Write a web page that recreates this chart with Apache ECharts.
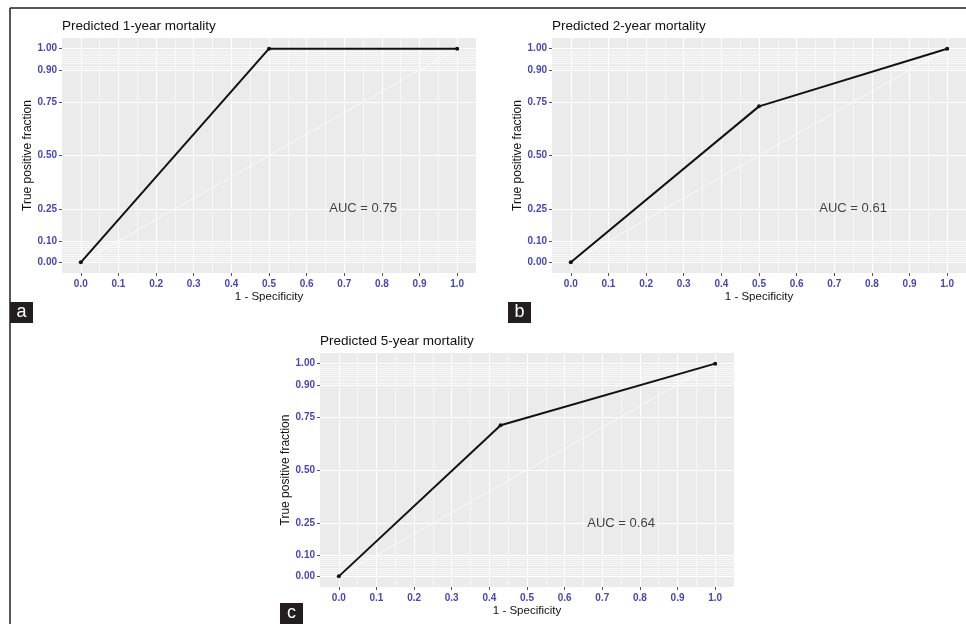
<!DOCTYPE html>
<html>
<head>
<meta charset="utf-8">
<script src="https://cdn.jsdelivr.net/npm/echarts@6/dist/echarts.min.js"></script>
<style>
html, body { margin: 0; padding: 0; background: #fff; }
#chart { width: 966px; height: 624px; }
</style>
</head>
<body>
<div id="chart"></div>
<script>
// ROC points (1 - specificity, true positive fraction) for each model
const fpr1 = [0, 0.5, 1];
const tpr1 = [0, 1, 1];
const fpr2 = [0, 0.5, 1];
const tpr2 = [0, 0.73, 1];
const fpr5 = [0, 0.43, 1];
const tpr5 = [0, 0.71, 1];

const titles = ["Predicted 1-year mortality", "Predicted 2-year mortality", "Predicted 5-year mortality"];
const aucLabels = ["AUC = 0.75", "AUC = 0.61", "AUC = 0.64"];
const panelTags = ["a", "b", "c"];

// axis breaks
const xTicks = [0, 0.1, 0.2, 0.3, 0.4, 0.5, 0.6, 0.7, 0.8, 0.9, 1.0];
const xMinor = [0.05, 0.15, 0.25, 0.35, 0.45, 0.55, 0.65, 0.75, 0.85, 0.95];
const yTicks = [0, 0.1, 0.25, 0.5, 0.75, 0.9, 1.0];
const yMinor = [0.01, 0.02, 0.03, 0.04, 0.05, 0.06, 0.07, 0.08, 0.09,
                0.91, 0.92, 0.93, 0.94, 0.95, 0.96, 0.97, 0.98, 0.99];
const diag = [[0, 0], [1, 1]];

const labelColor = "#4646b4";
const fontFam = "Liberation Sans, Arial, sans-serif";

// panel boxes: left, top, width, height
const boxes = [
  { left: 62, top: 38, width: 414, height: 235 },
  { left: 552, top: 38, width: 414, height: 235 },
  { left: 320, top: 353, width: 414, height: 234 },
];
const rocData = [
  fpr1.map((x, i) => [x, tpr1[i]]),
  fpr2.map((x, i) => [x, tpr2[i]]),
  fpr5.map((x, i) => [x, tpr5[i]]),
];

let chart = echarts.init(document.getElementById("chart"));
let grid = [], xAxis = [], yAxis = [], series = [], title = [];

boxes.forEach((b, i) => {
  grid.push({
    left: b.left, top: b.top, width: b.width, height: b.height,
    show: true, backgroundColor: "#ebebeb", borderWidth: 0,
  });
  title.push({
    text: titles[i], left: b.left, top: b.top - 19, padding: 0,
    textStyle: { fontFamily: fontFam, fontSize: 13.5, fontWeight: "normal", color: "#111" },
  });
  xAxis.push({
    type: "value", gridIndex: i, min: -0.05, max: 1.05,
    name: "1 - Specificity", nameLocation: "middle", nameGap: 18,
    nameTextStyle: { fontFamily: fontFam, fontSize: 11.5, color: "#111" },
    axisLine: { show: true, onZero: false, lineStyle: { color: "rgba(0,0,0,0)" } },
    axisTick: { show: true, inside: false, length: 3, customValues: xTicks, lineStyle: { color: "#555", width: 1 } },
    axisLabel: {
      customValues: xTicks, margin: 6, fontFamily: fontFam, fontSize: 10, fontWeight: "bold",
      color: labelColor, formatter: (v) => v.toFixed(1),
    },
    splitLine: { show: false },
  });
  yAxis.push({
    type: "value", gridIndex: i, min: -0.05, max: 1.05,
    name: "True positive fraction", nameLocation: "middle", nameGap: 28,
    nameTextStyle: { fontFamily: fontFam, fontSize: 12, color: "#111" },
    axisLine: { show: true, onZero: false, lineStyle: { color: "rgba(0,0,0,0)" } },
    axisTick: { show: true, inside: false, length: 3, customValues: yTicks, lineStyle: { color: "#555", width: 1 } },
    axisLabel: {
      customValues: yTicks, margin: 5, fontFamily: fontFam, fontSize: 10, fontWeight: "bold",
      color: labelColor, formatter: (v) => v.toFixed(2),
    },
    splitLine: { show: false },
  });

  // diagonal reference line, carrying the panel grid lines as markLines
  const gridLines = [];
  yTicks.forEach((v) => gridLines.push({ yAxis: v, lineStyle: { width: 1.1 } }));
  yMinor.forEach((v) => gridLines.push({ yAxis: v, lineStyle: { width: 0.6 } }));
  xTicks.forEach((v) => gridLines.push({ xAxis: v, lineStyle: { width: 1.1 } }));
  xMinor.forEach((v) => gridLines.push({ xAxis: v, lineStyle: { width: 0.6 } }));
  series.push({
    type: "line", xAxisIndex: i, yAxisIndex: i, data: diag,
    symbol: "none", silent: true, z: 1,
    lineStyle: { color: "#ffffff", width: 0.7 },
    markLine: {
      z: 0, silent: true, symbol: ["none", "none"], animation: false,
      label: { show: false },
      lineStyle: { color: "#ffffff", type: "solid" },
      data: gridLines,
    },
  });

  series.push({
    type: "line", xAxisIndex: i, yAxisIndex: i, data: rocData[i],
    symbol: "circle", symbolSize: 4, z: 3,
    lineStyle: { color: "#111", width: 2 },
    itemStyle: { color: "#111" },
  });

  // AUC annotation at (0.75, 0.25)
  series.push({
    type: "scatter", xAxisIndex: i, yAxisIndex: i, data: [[0.75, 0.25]],
    symbolSize: 0, silent: true, z: 4,
    label: {
      show: true, position: "inside", formatter: aucLabels[i],
      fontFamily: fontFam, fontSize: 13, color: "#111",
    },
  });
});

const tagBoxes = [[10, 302], [508, 302], [280, 603]];
let graphic = [
  { type: "line", shape: { x1: 10, y1: 8, x2: 10, y2: 624 }, style: { stroke: "#231f20", lineWidth: 1.5 } },
  { type: "line", shape: { x1: 10, y1: 8, x2: 966, y2: 8 }, style: { stroke: "#231f20", lineWidth: 1.5 } },
];
tagBoxes.forEach((p, i) => {
  graphic.push({
    type: "group", left: p[0], top: p[1],
    children: [
      { type: "rect", shape: { x: 0, y: 0, width: 23, height: 21 }, style: { fill: "#231f20" } },
      {
        type: "text", x: 11.5, y: 10.5,
        style: { text: panelTags[i], fill: "#fff", font: "18px " + fontFam, align: "center", verticalAlign: "middle" },
      },
    ],
  });
});

chart.setOption({
  animation: false,
  backgroundColor: "#fff",
  title: title,
  grid: grid,
  xAxis: xAxis,
  yAxis: yAxis,
  series: series,
  graphic: graphic,
});
</script>
</body>
</html>
